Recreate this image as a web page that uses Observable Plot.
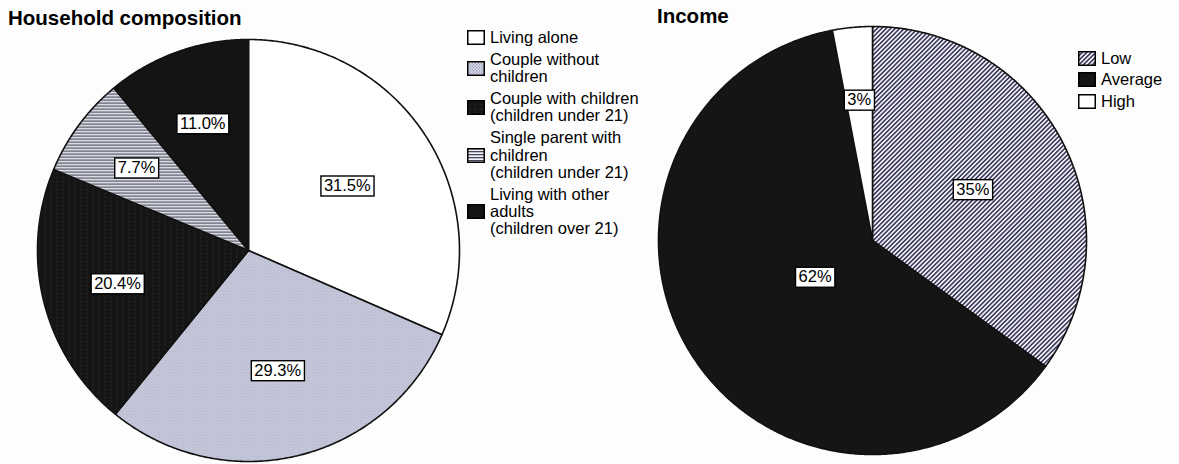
<!DOCTYPE html>
<html><head><meta charset="utf-8">
<script src="https://cdn.jsdelivr.net/npm/d3@7"></script>
<script src="https://cdn.jsdelivr.net/npm/@observablehq/plot@0.6"></script>
<style>
html,body{margin:0;padding:0;background:#fff;}
#root{position:relative;width:1179px;height:464px;overflow:hidden;background:#fdfdfe;font-family:"Liberation Sans",Arial,sans-serif;}
.title{position:absolute;font-weight:bold;font-size:20.5px;color:#000;line-height:20px;white-space:nowrap;}
.legend{position:absolute;display:flex;flex-direction:column;gap:4.5px;font-size:16.5px;line-height:17.3px;color:#000;}
.item{display:flex;align-items:center;}
.sw{flex:none;margin-right:5px;display:block;}
.lt{white-space:pre-line;}
.plot{position:absolute;top:0;}
</style></head><body>
<svg width="0" height="0" style="position:absolute"><defs>
  <pattern id="pDots" width="3" height="3" patternUnits="userSpaceOnUse">
    <rect width="3" height="3" fill="#dcdeea"/>
    <circle cx="0.75" cy="0.75" r="0.7" fill="#8a8eae"/>
    <circle cx="2.25" cy="2.25" r="0.7" fill="#8a8eae"/>
  </pattern>
  <pattern id="pBlackDots" width="6" height="4" patternUnits="userSpaceOnUse">
    <rect width="6" height="4" fill="#151515"/>
    <rect x="2" y="0" width="1" height="2" fill="#2a2a2e"/>
  </pattern>
  <pattern id="pHStripes" width="4" height="3" patternUnits="userSpaceOnUse">
    <rect width="4" height="3" fill="#f4f4f8"/>
    <rect x="0" y="0" width="4" height="1.3" fill="#45475c"/>
  </pattern>
  <pattern id="pHatch" width="3.2" height="6" patternUnits="userSpaceOnUse" patternTransform="rotate(45)">
    <rect width="3.2" height="6" fill="#f2f2f6"/>
    <rect x="0" y="0" width="1.6" height="6" fill="#3e3c5e"/>
  </pattern>
</defs></svg>
<div id="root"></div>
<script>
// ---- data ----
const householdCategories = [
  "Living alone",
  "Couple without\nchildren",
  "Couple with children\n(children under 21)",
  "Single parent with\nchildren\n(children under 21)",
  "Living with other\nadults\n(children over 21)"
];
const householdValues = [31.5, 29.3, 20.4, 7.7, 11.0];
const householdLabels = ["31.5%", "29.3%", "20.4%", "7.7%", "11.0%"];

const incomeCategories = ["Low", "Average", "High"];
const incomeValues = [35, 62, 3];
const incomeLabels = ["35%", "62%", "3%"];

// ---- styles ----
const householdFills = ["#ffffff", "url(#pDots)", "url(#pBlackDots)", "url(#pHStripes)", "#141414"];
const incomeFills = ["url(#pHatch)", "#151515", "#ffffff"];
const FONT = "'Liberation Sans', Arial, sans-serif";

function slicePolys(values) {
  const arcs = d3.pie().sort(null).value(d => d)(values);
  return arcs.map(a => {
    const pts = [[0, 0]];
    const n = Math.max(2, Math.ceil((a.endAngle - a.startAngle) / (Math.PI / 360)));
    for (let k = 0; k <= n; k++) {
      const t = a.startAngle + (a.endAngle - a.startAngle) * k / n;
      pts.push([Math.sin(t), Math.cos(t)]);
    }
    pts.push([0, 0]);
    return {pts, mid: (a.startAngle + a.endAngle) / 2};
  });
}

function pie({values, labels, fills, labelR, width, height, cx, cy, r}) {
  const polys = slicePolys(values);
  const marks = polys.map((p, i) => Plot.line(p.pts, {
    x: d => d[0], y: d => d[1], fill: fills[i], stroke: "#111", strokeWidth: 1.6, strokeLinejoin: "round"
  }));
  const lab = polys.map((p, i) => ({x: labelR[i] * Math.sin(p.mid), y: labelR[i] * Math.cos(p.mid), t: labels[i]}));
  marks.push(Plot.text(lab, {x: "x", y: "y", text: "t", fontSize: 16.5, fill: "#000", fontFamily: FONT}));
  return Plot.plot({
    width, height, margin: 0,
    x: {domain: [-1, 1], range: [cx - r, cx + r], axis: null},
    y: {domain: [-1, 1], range: [cy + r, cy - r], axis: null},
    style: {background: "transparent", fontFamily: FONT, overflow: "visible"},
    marks
  });
}

function boxLabels(svg) {
  svg.querySelectorAll('g[aria-label="text"] text').forEach(t => {
    const b = t.getBBox();
    const rect = document.createElementNS("http://www.w3.org/2000/svg", "rect");
    rect.setAttribute("x", b.x - 3);
    rect.setAttribute("y", b.y);
    rect.setAttribute("width", b.width + 6);
    rect.setAttribute("height", b.height + 2);
    rect.setAttribute("fill", "#fff");
    rect.setAttribute("stroke", "#000");
    rect.setAttribute("stroke-width", "1.4");
    const tr = t.getAttribute("transform");
    if (tr) rect.setAttribute("transform", tr);
    t.parentNode.insertBefore(rect, t);
  });
}

function legend(cats, fills, left, top) {
  const div = document.createElement("div");
  div.className = "legend";
  div.style.left = left + "px";
  div.style.top = top + "px";
  cats.forEach((c, i) => {
    const it = document.createElement("div");
    it.className = "item";
    it.innerHTML = `<svg class="sw" width="18" height="15"><rect x="0.75" y="0.75" width="16.5" height="13.5" fill="${fills[i]}" stroke="#000" stroke-width="1.5"/></svg><span class="lt"></span>`;
    it.querySelector(".lt").textContent = c;
    div.appendChild(it);
  });
  return div;
}

function title(text, left, top) {
  const d = document.createElement("div");
  d.className = "title";
  d.style.left = left + "px";
  d.style.top = top + "px";
  d.textContent = text;
  return d;
}

const root = document.getElementById("root");

const pA = pie({values: householdValues, labels: householdLabels, fills: householdFills,
  labelR: [0.56, 0.585, 0.64, 0.66, 0.64], width: 650, height: 464, cx: 248, cy: 250, r: 211});
pA.classList.add("plot"); pA.style.left = "0px";
root.appendChild(pA);

const pB = pie({values: incomeValues, labels: incomeLabels, fills: incomeFills,
  labelR: [0.526, 0.318, 0.66], width: 529, height: 464, cx: 222, cy: 240, r: 214});
pB.classList.add("plot"); pB.style.left = "650px";
root.appendChild(pB);

boxLabels(pA); boxLabels(pB);

root.appendChild(title("Household composition", 8, 8));
root.appendChild(title("Income", 657, 6));
root.appendChild(legend(householdCategories, householdFills, 467, 29.3));
root.appendChild(legend(incomeCategories, incomeFills, 1078, 49.5));
</script>
</body></html>
